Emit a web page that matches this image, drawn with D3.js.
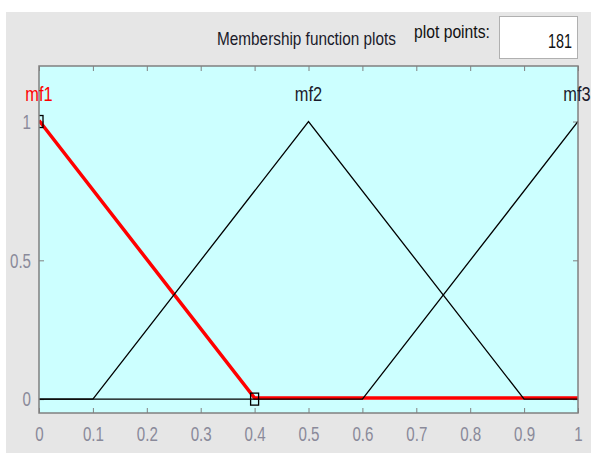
<!DOCTYPE html>
<html>
<head>
<meta charset="utf-8">
<script src="https://cdn.jsdelivr.net/npm/d3@7"></script>
<style>
  html, body { margin: 0; padding: 0; background: #fff; }
  svg { display: block; }
  text { font-family: "Liberation Sans", Arial, sans-serif; }
</style>
</head>
<body>
<div id="chart"></div>
<script>
// membership functions, vertices
const mfNames = ["mf1", "mf2", "mf3"];
const mf1X = [0, 0.4, 1];
const mf1Y = [1, 0, 0];
const mf2X = [0, 0.1, 0.5, 0.9, 1];
const mf2Y = [0, 0, 1, 0, 0];
const mf3X = [0, 0.6, 1];
const mf3Y = [0, 0, 1];
const mfPeaks = [0, 0.5, 1];
// handles of the selected mf (mf1)
const handleX = [0, 0.4];
const handleY = [1, 0];

const xTicks = [0, 0.1, 0.2, 0.3, 0.4, 0.5, 0.6, 0.7, 0.8, 0.9, 1];
const yTicks = [0, 0.5, 1];
const plotPoints = "181";

const W = 591, H = 453;
const plot = { left: 39, right: 578, top: 66, bottom: 413 };
const squeeze = 0.72; // matlab font is narrow

const svg = d3.select("#chart").append("svg")
  .attr("width", W)
  .attr("height", H);

// squeeze a text horizontally to a given width, keeping its left/right edge
function fitText(sel, x0, width, anchor) {
  const node = sel.node();
  const natural = node.getComputedTextLength();
  const s = width / natural;
  sel.attr("x", x0 / s).attr("transform", `scale(${s},1)`).attr("text-anchor", anchor);
}

// gray panel
svg.append("rect")
  .attr("x", 6).attr("y", 12)
  .attr("width", W - 6).attr("height", H - 12)
  .attr("fill", "#e6e6e6");

// header
const title = svg.append("text")
  .attr("y", 45)
  .attr("font-size", 18)
  .attr("fill", "#1a1a2a")
  .text("Membership function plots");
fitText(title, 217, 179, "start");

const ppLabel = svg.append("text")
  .attr("y", 38)
  .attr("font-size", 18)
  .attr("fill", "#111")
  .text("plot points:");
fitText(ppLabel, 414, 76, "start");

svg.append("rect")
  .attr("x", 499.5).attr("y", 16.5)
  .attr("width", 78).attr("height", 42)
  .attr("fill", "#fff")
  .attr("stroke", "#b0b0b0");

const ppValue = svg.append("text")
  .attr("y", 48)
  .attr("font-size", 21)
  .attr("fill", "#111")
  .text(plotPoints);
fitText(ppValue, 572, 24, "end");

const x = d3.scaleLinear().domain([0, 1]).range([plot.left, plot.right]);
const y = d3.scaleLinear().domain([-0.05, 1.2]).range([plot.bottom, plot.top]);

// axes background
svg.append("rect")
  .attr("x", plot.left).attr("y", plot.top)
  .attr("width", plot.right - plot.left).attr("height", plot.bottom - plot.top)
  .attr("fill", "#ccffff");

svg.append("defs").append("clipPath").attr("id", "clip")
  .append("rect")
  .attr("x", plot.left).attr("y", plot.top)
  .attr("width", plot.right - plot.left).attr("height", plot.bottom - plot.top);

const tickLen = 5;

// bottom axis, ticks pointing in
const xAxis = svg.append("g")
  .attr("transform", `translate(0,${plot.bottom})`)
  .call(d3.axisBottom(x).tickValues(xTicks).tickSizeInner(-tickLen).tickSizeOuter(0).tickPadding(13).tickFormat(d3.format("~g")));
// top axis
const xAxisTop = svg.append("g")
  .attr("transform", `translate(0,${plot.top})`)
  .call(d3.axisTop(x).tickValues(xTicks).tickSizeInner(-tickLen).tickSizeOuter(0).tickFormat(""));
// left axis
const yAxis = svg.append("g")
  .attr("transform", `translate(${plot.left},0)`)
  .call(d3.axisLeft(y).tickValues(yTicks).tickSizeInner(-tickLen).tickSizeOuter(0).tickPadding(8).tickFormat(d3.format("~g")));
// right axis
const yAxisRight = svg.append("g")
  .attr("transform", `translate(${plot.right},0)`)
  .call(d3.axisRight(y).tickValues(yTicks).tickSizeInner(-tickLen).tickSizeOuter(0).tickFormat(""));

[xAxis, xAxisTop, yAxis, yAxisRight].forEach(g => {
  g.select(".domain").remove();
  g.selectAll(".tick line").attr("stroke", "#808080");
  g.selectAll(".tick text")
    .attr("font-size", 21)
    .attr("fill", "#8a8a9a")
    .style("font-family", "\"Liberation Sans\", Arial, sans-serif")
    .attr("x", function () { return (+d3.select(this).attr("x") || 0) / squeeze; })
    .attr("transform", `scale(${squeeze},1)`);
});

const line = d3.line()
  .x(d => x(d[0]))
  .y(d => y(d[1]));

const lines = svg.append("g").attr("clip-path", "url(#clip)");

// selected mf in red, others black
lines.append("path")
  .datum(d3.zip(mf1X, mf1Y))
  .attr("d", line)
  .attr("fill", "none")
  .attr("stroke", "#ff0000")
  .attr("stroke-width", 3.5)
  .attr("transform", "translate(0,-1)");

[d3.zip(mf2X, mf2Y), d3.zip(mf3X, mf3Y)].forEach(pts => {
  lines.append("path")
    .datum(pts)
    .attr("d", line)
    .attr("fill", "none")
    .attr("stroke", "#000")
    .attr("stroke-width", 1.3);
});

// handles
lines.selectAll(".handle")
  .data(d3.zip(handleX, handleY))
  .enter()
  .append("rect")
  .attr("class", "handle")
  .attr("x", d => x(d[0]) - 4)
  .attr("y", d => y(d[1]) - 6)
  .attr("width", 8)
  .attr("height", 12)
  .attr("fill", "none")
  .attr("stroke", "#000")
  .attr("stroke-width", 1.3);

// border
svg.append("rect")
  .attr("x", plot.left).attr("y", plot.top)
  .attr("width", plot.right - plot.left).attr("height", plot.bottom - plot.top)
  .attr("fill", "none")
  .attr("stroke", "#808080")
  .attr("stroke-width", 1.5);

// mf names above peaks; the last one is kept inside the window
svg.selectAll(".mf-label")
  .data(mfNames)
  .enter()
  .append("text")
  .attr("class", "mf-label")
  .attr("x", (d, i) => Math.min(x(mfPeaks[i]), W - 14) / 0.82)
  .attr("y", 101)
  .attr("transform", "scale(0.82,1)")
  .attr("text-anchor", "middle")
  .attr("font-size", 20)
  .attr("fill", (d, i) => i === 0 ? "#ff0000" : "#1a1a2a")
  .text(d => d);
</script>
</body>
</html>
